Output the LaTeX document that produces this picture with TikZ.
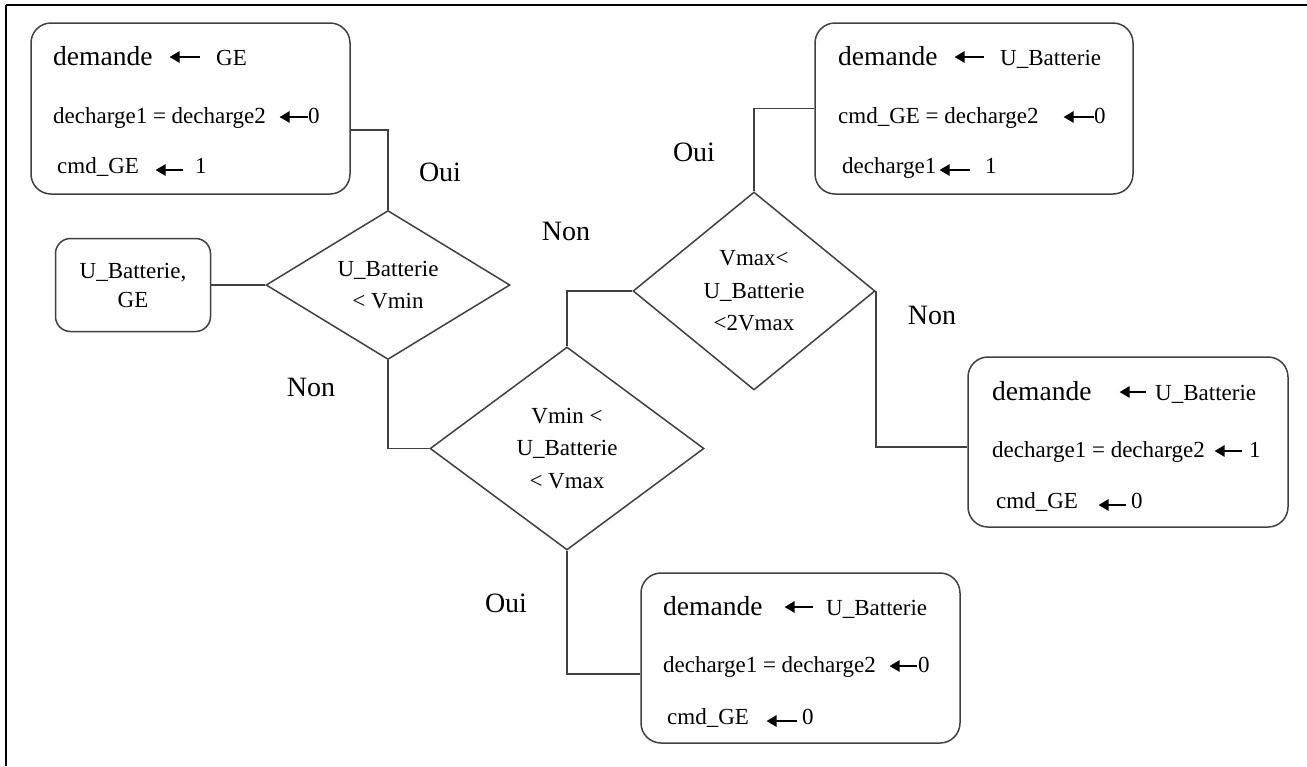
\documentclass[tikz,border=0pt]{standalone}
\usepackage{fontspec}
\setmainfont{Liberation Serif}
\usetikzlibrary{shapes.geometric,arrows.meta}

\definecolor{ink}{HTML}{404040}

% big first word of an assignment row
\newcommand{\bigword}{\fontsize{27.5}{30}\selectfont}
% short left-pointing assignment arrow: #1 length, #2 lift above baseline
\newcommand{\larr}[2]{\raisebox{#2pt}{\tikz[baseline=0pt]\draw[assign] (#1pt,0pt) -- (0pt,0pt);}}

\tikzset{
  assign/.style={line width=2.6pt,-{Triangle[length=10pt,width=11pt]}},
  frame/.style={line width=2.4pt,black},
  box/.style={draw=ink,line width=1.5pt,rounded corners=20pt,minimum width=319pt,minimum height=171pt,inner sep=0pt},
  inbox/.style={draw=ink,line width=1.5pt,rounded corners=15pt,minimum width=155pt,minimum height=93pt,inner sep=0pt,
    align=center,font=\fontsize{23}{29}\selectfont},
  test/.style={draw=ink,line width=1.5pt,shape=diamond,inner sep=0pt,align=center,font=\fontsize{23}{32.5}\selectfont},
  row/.style={anchor=base west,inner sep=0pt,font=\fontsize{23}{28}\selectfont},
  tag/.style={inner sep=0pt,font=\fontsize{28}{30}\selectfont},
  link/.style={draw=ink,line width=1.5pt}
}

\begin{document}
\begin{tikzpicture}[x=1pt,y=-1pt]
\useasboundingbox (0,0) rectangle (1307,766);

% outer frame (top and left edges)
\draw[frame] (6,5) -- (1307,5);
\draw[frame] (6,5) -- (6,766);

% assignment boxes
\node[box] (A) at (190.5,108.5) {};
\node[box,minimum width=318pt] (C) at (974,108.5) {};
\node[box,minimum width=320pt,minimum height=170pt] (D) at (1128,442) {};
\node[box,minimum height=170pt] (E) at (800.5,658) {};

% input box
\node[inbox] (B) at (133,285) {U\_Batterie,\\GE};

% tests
\node[test,minimum width=244pt,minimum height=143pt] (T1) at (388,285) {U\_Batterie\\< Vmin};
\node[test,minimum width=274pt,minimum height=203pt] (T2) at (567,448.5) {Vmin <\\U\_Batterie\\< Vmax};
\node[test,minimum width=242pt,minimum height=198pt] (T3) at (754,291) {Vmax<\\U\_Batterie\\<2Vmax};

% rows of box A
\node[row] (a1) at (53,65) {\makebox[115pt][l]{\bigword demande}\makebox[48pt][l]{\larr{30}{8}}GE};
\node[row] (a2) at (53,123) {\makebox[225pt][l]{decharge1 = decharge2}\makebox[30pt][l]{\larr{28}{6}}0};
\node[row] (a3) at (57,173) {\makebox[97pt][l]{cmd\_GE}\makebox[41pt][l]{\larr{27}{3}}1};

% rows of box C
\node[row] (c1) at (838,65) {\makebox[115pt][l]{\bigword demande}\makebox[47pt][l]{\larr{29}{8}}U\_Batterie};
\node[row] (c2) at (838,123) {\makebox[224pt][l]{cmd\_GE = decharge2}\makebox[32pt][l]{\larr{30}{6}}0};
\node[row] (c3) at (842,173) {\makebox[96pt][l]{decharge1}\makebox[47pt][l]{\larr{30}{3}}1};

% rows of box D
\node[row] (d1) at (992,400) {\makebox[126pt][l]{\bigword demande}\makebox[37pt][l]{\larr{26}{8}}U\_Batterie};
\node[row] (d2) at (992,457) {\makebox[221pt][l]{decharge1 = decharge2}\makebox[36pt][l]{\larr{27}{6}}1};
\node[row] (d3) at (996,508) {\makebox[101pt][l]{cmd\_GE}\makebox[34pt][l]{\larr{27}{3}}0};

% rows of box E
\node[row] (e1) at (663,615) {\makebox[120pt][l]{\bigword demande}\makebox[43pt][l]{\larr{28}{8}}U\_Batterie};
\node[row] (e2) at (663,672) {\makebox[225pt][l]{decharge1 = decharge2}\makebox[30pt][l]{\larr{27}{6}}0};
\node[row] (e3) at (667,724) {\makebox[98pt][l]{cmd\_GE}\makebox[37pt][l]{\larr{30}{3}}0};

% branch labels
\node[tag] (l1) at (440,172) {Oui};
\node[tag] (l2) at (566,231) {Non};
\node[tag] (l3) at (311,387) {Non};
\node[tag] (l4) at (694,152) {Oui};
\node[tag] (l5) at (932,315) {Non};
\node[tag] (l6) at (506,603) {Oui};

% connectors
\path[link] ([yshift=-21.5pt]A.east) -| (T1.north);
\path[link] (B.east) -- (T1.west);
\path[link] (T1.south) |- (T2.west);
\path[link] (T2.north) |- (T3.west);
\path[link] (T3.north) |- (C.west);
\path[link] (T3.east) |- ([yshift=-5pt]D.west);
\path[link] (T2.south) |- ([yshift=-16pt]E.west);
\end{tikzpicture}
\end{document}
